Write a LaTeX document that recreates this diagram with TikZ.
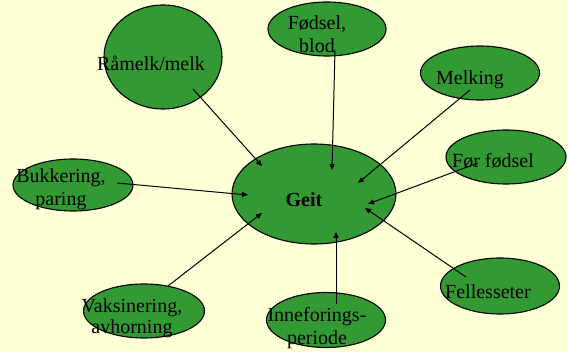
\documentclass[tikz,border=0pt]{standalone}
\usepackage{fontspec}
\setmainfont{Liberation Serif}
\usetikzlibrary{shapes.geometric, arrows.meta}
\definecolor{paper}{RGB}{255,255,213}
\definecolor{leaf}{RGB}{51,153,51}
\tikzset{
  blob/.style={draw=black, fill=leaf, ellipse, line width=1.1pt, inner sep=0pt},
  word/.style={font=\fontsize{20}{23}\selectfont, align=center, anchor=base, inner sep=0pt},
  feed/.style={line width=1pt, -{Triangle[length=6pt, width=5pt]}}
}

\begin{document}
\begin{tikzpicture}[x=1pt, y=-1pt]
\fill[paper] (0,0) rectangle (568,352);
\useasboundingbox (0,0) rectangle (568,352);

% ellipses
\node[blob, minimum width=164pt, minimum height=100pt](geit) at (314,194){};
\node[blob, minimum width=118pt, minimum height=104pt](ramelk) at (163,57){};
\node[blob, minimum width=118pt, minimum height=54pt](fodsel) at (327,29){};
\node[blob, minimum width=119pt, minimum height=54pt](melking) at (480,73){};
\node[blob, minimum width=120pt, minimum height=54pt](forfodsel) at (506,157){};
\node[blob, minimum width=120pt, minimum height=52pt](bukk) at (73,185){};
\node[blob, minimum width=121pt, minimum height=54pt](vaks) at (144,311){};
\node[blob, minimum width=119pt, minimum height=55pt](innef) at (326,320){};
\node[blob, minimum width=119pt, minimum height=56pt](felles) at (500,286){};

% texts (base = last line)
\node[word, font=\fontsize{20}{23}\selectfont\bfseries](geit-txt) at (304,207){Geit};
\node[word](ramelk-txt) at (151,71){Råmelk/melk};
\node[word](fodsel-txt) at (317,53){Fødsel,\\blod};
\node[word](melking-txt) at (470,85){Melking};
\node[word](forfodsel-txt) at (493,168){Før fødsel};
\node[word](bukk-txt) at (61,206){Bukkering,\\paring};
\node[word, font=\fontsize{20}{21}\selectfont](vaks-txt) at (132,334){Vaksinering,\\avhorning};
\node[word](innef-txt) at (317,345){Inneforings-\\periode};
\node[word](felles-txt) at (488,299){Fellesseter};

% connector ends
\coordinate (ramelk-out) at (193,89);
\coordinate (ramelk-in) at (262,166);
\coordinate (fodsel-out) at (335,50);
\coordinate (fodsel-in) at (332,170);
\coordinate (melking-out) at (470,90);
\coordinate (melking-in) at (358,183);
\coordinate (forfodsel-out) at (478,163);
\coordinate (forfodsel-in) at (368,204);
\coordinate (felles-out) at (466,277);
\coordinate (felles-in) at (365,208);
\coordinate (bukk-out) at (117,183);
\coordinate (bukk-in) at (248,195);
\coordinate (vaks-out) at (168,286);
\coordinate (vaks-in) at (262,213);
\coordinate (innef-out) at (336,304);
\coordinate (innef-in) at (336,232);

\foreach \n in {ramelk, fodsel, melking, forfodsel, felles, bukk, vaks, innef}
  \draw[feed] (\n-out) -- (\n-in);
\end{tikzpicture}
\end{document}
